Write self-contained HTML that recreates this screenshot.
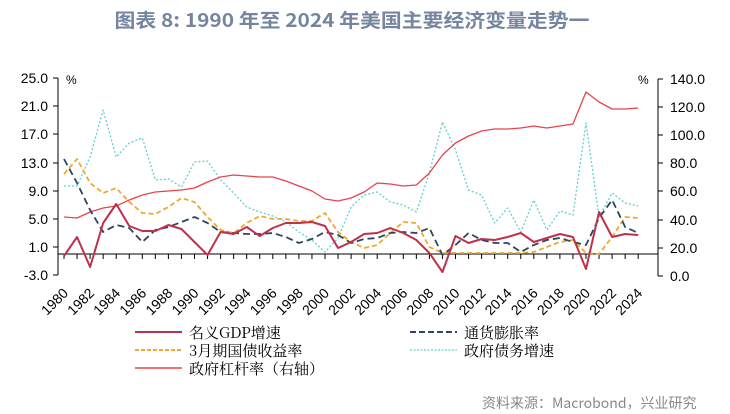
<!DOCTYPE html>
<html><head><meta charset="utf-8"><style>
html,body{margin:0;padding:0;background:#fff;}
svg{display:block;font-family:"Liberation Sans","Noto Sans CJK SC",sans-serif;}
</style></head><body>
<svg width="730" height="414" viewBox="0 0 730 414">
<text x="352" y="27" text-anchor="middle" font-size="19" font-weight="bold" fill="#7585a0" font-family="'Noto Sans CJK SC',sans-serif" textLength="475" lengthAdjust="spacingAndGlyphs">图表 8:  1990 年至 2024 年美国主要经济变量走势一</text>
<g stroke="#000" stroke-width="1" fill="none">
<line x1="58" y1="78" x2="58" y2="275"/>
<line x1="658" y1="79" x2="658" y2="276"/>
<line x1="58" y1="254" x2="658" y2="254"/>
</g>
<g stroke="#000" stroke-width="1">
<line x1="53" y1="78" x2="58" y2="78"/><line x1="53" y1="106" x2="58" y2="106"/><line x1="53" y1="134" x2="58" y2="134"/><line x1="53" y1="163" x2="58" y2="163"/><line x1="53" y1="191" x2="58" y2="191"/><line x1="53" y1="219" x2="58" y2="219"/><line x1="53" y1="247" x2="58" y2="247"/><line x1="53" y1="275" x2="58" y2="275"/>
<line x1="658" y1="79" x2="663" y2="79"/><line x1="658" y1="107" x2="663" y2="107"/><line x1="658" y1="135" x2="663" y2="135"/><line x1="658" y1="163" x2="663" y2="163"/><line x1="658" y1="191" x2="663" y2="191"/><line x1="658" y1="220" x2="663" y2="220"/><line x1="658" y1="248" x2="663" y2="248"/><line x1="658" y1="276" x2="663" y2="276"/>
</g>
<g font-size="14" fill="#000" text-anchor="end">
<text x="48" y="83">25.0</text><text x="48" y="111">21.0</text><text x="48" y="139">17.0</text><text x="48" y="168">13.0</text><text x="48" y="196">9.0</text><text x="48" y="224">5.0</text><text x="48" y="252">1.0</text><text x="48" y="280">-3.0</text>
</g>
<g font-size="14" fill="#000">
<text x="670" y="84">140.0</text><text x="670" y="112">120.0</text><text x="670" y="140">100.0</text><text x="670" y="168">80.0</text><text x="670" y="196">60.0</text><text x="670" y="225">40.0</text><text x="670" y="253">20.0</text><text x="670" y="281">0.0</text>
<text x="66" y="84" font-size="12">%</text><text x="638" y="84" font-size="12">%</text>
</g>
<g id="ticks" stroke="#000"></g>
<g transform="translate(64,0) scale(13.05,1)" fill="none" stroke-linejoin="round">
<polyline vector-effect="non-scaling-stroke" stroke="#5fd0d0" stroke-width="1.3" stroke-dasharray="2,2" points="0,186 1,186 2,157 3,110 4,157 5,143 6,138 7,180 8,179 9,187 10,162 11,161 12,180 13,193 14,207 15,212 16,216 17,222 18,232 19,240 20,252 21,238 22,207 23,195 24,192 25,202 26,205 27,212 28,173 29,122 30,150 31,190 32,195 33,223 34,208 35,232 36,200 37,230 38,211 39,215 40,123 41,217 42,193 43,203 44,206"/>
<polyline vector-effect="non-scaling-stroke" stroke="#e8434f" stroke-width="1.3" points="0,217 1,218 2,212 3,208 4,206 5,200 6,195 7,192 8,191 9,190 10,188 11,182 12,177 13,175 14,176 15,177 16,177 17,181 18,186 19,191 20,199 21,201 22,198 23,192 24,183 25,184 26,186 27,185 28,173 29,155 30,143 31,136 32,131 33,129 34,129 35,128 36,126 37,128 38,126 39,124 40,92 41,102 42,109 43,109 44,108"/>
<polyline vector-effect="non-scaling-stroke" stroke="#f0a830" stroke-width="1.8" stroke-dasharray="5,3" points="0,174 1,159 2,183 3,193 4,188 5,202 6,213 7,214 8,207 9,198 10,202 11,217 12,230 13,233 14,223 15,216 16,219 17,219 18,221 19,221 20,213 21,232 22,242 23,248 24,245 25,233 26,222 27,223 28,247 29,253 30,253 31,253 32,253 33,253 34,253 35,253 36,252 37,247 38,242 39,240 40,253 41,254 42,237 43,217 44,218"/>
<polyline vector-effect="non-scaling-stroke" stroke="#2f4560" stroke-width="1.8" stroke-dasharray="7,4" points="0,159 1,183 2,210 3,232 4,225 5,228 6,242 7,230 8,227 9,222 10,217 11,223 12,232 13,233 14,234 15,234 16,233 17,237 18,243 19,239 20,232 21,235 22,243 23,239 24,238 25,233 26,232 27,233 28,228 29,255 30,245 31,233 32,240 33,243 34,243 35,252 36,245 37,240 38,238 39,242 40,245 41,218 42,200 43,227 44,233"/>
<polyline vector-effect="non-scaling-stroke" stroke="#c0304a" stroke-width="2" points="0,256 1,237 2,267 3,223 4,204 5,226 6,231 7,231 8,225 9,229 10,242 11,255 12,232 13,234 14,227 15,236 16,228 17,223 18,223 19,222 20,226 21,248 22,242 23,234 24,233 25,228 26,233 27,240 28,253 29,272 30,236 31,243 32,239 33,240 34,237 35,233 36,242 37,238 38,234 39,237 40,269 41,212 42,237 43,234 44,235"/>
</g>
<g id="years" font-size="14" fill="#000" text-anchor="end"></g>
<g stroke-width="2" fill="none">
<line x1="135" y1="332" x2="182" y2="332" stroke="#c0304a"/>
<line x1="410" y1="332" x2="457" y2="332" stroke="#2f4560" stroke-dasharray="6,3"/>
<line x1="135" y1="350" x2="182" y2="350" stroke="#f0a830" stroke-dasharray="4,2"/>
<line x1="410" y1="350" x2="457" y2="350" stroke="#5fd0d0" stroke-width="1.3" stroke-dasharray="2,1.5"/>
<line x1="135" y1="368" x2="182" y2="368" stroke="#e8434f" stroke-width="1.5"/>
</g>
<g font-size="15" fill="#000" font-family="'Noto Serif CJK SC','Noto Sans CJK SC',serif">
<text x="189" y="338">名义GDP增速</text>
<text x="464" y="338">通货膨胀率</text>
<text x="189" y="356">3月期国债收益率</text>
<text x="464" y="356">政府债务增速</text>
<text x="189" y="374">政府杠杆率（右轴）</text>
</g>
<text x="482" y="408" font-size="14" fill="#888" font-family="'Noto Sans CJK SC',sans-serif">资料来源：Macrobond，兴业研究</text>
</svg>
<script>
var t=document.getElementById('ticks'),y=document.getElementById('years'),ns='http://www.w3.org/2000/svg';
for(var i=0;i<=44;i++){var x=64+13.05*i;var l=document.createElementNS(ns,'line');l.setAttribute('x1',x);l.setAttribute('x2',x);l.setAttribute('y1',254);l.setAttribute('y2',259);t.appendChild(l);
if(i%2==0){var tx=document.createElementNS(ns,'text');tx.setAttribute('transform','translate('+(x+5)+',294) rotate(-45)');tx.textContent=1980+i;y.appendChild(tx);}}
</script>
</body></html>
